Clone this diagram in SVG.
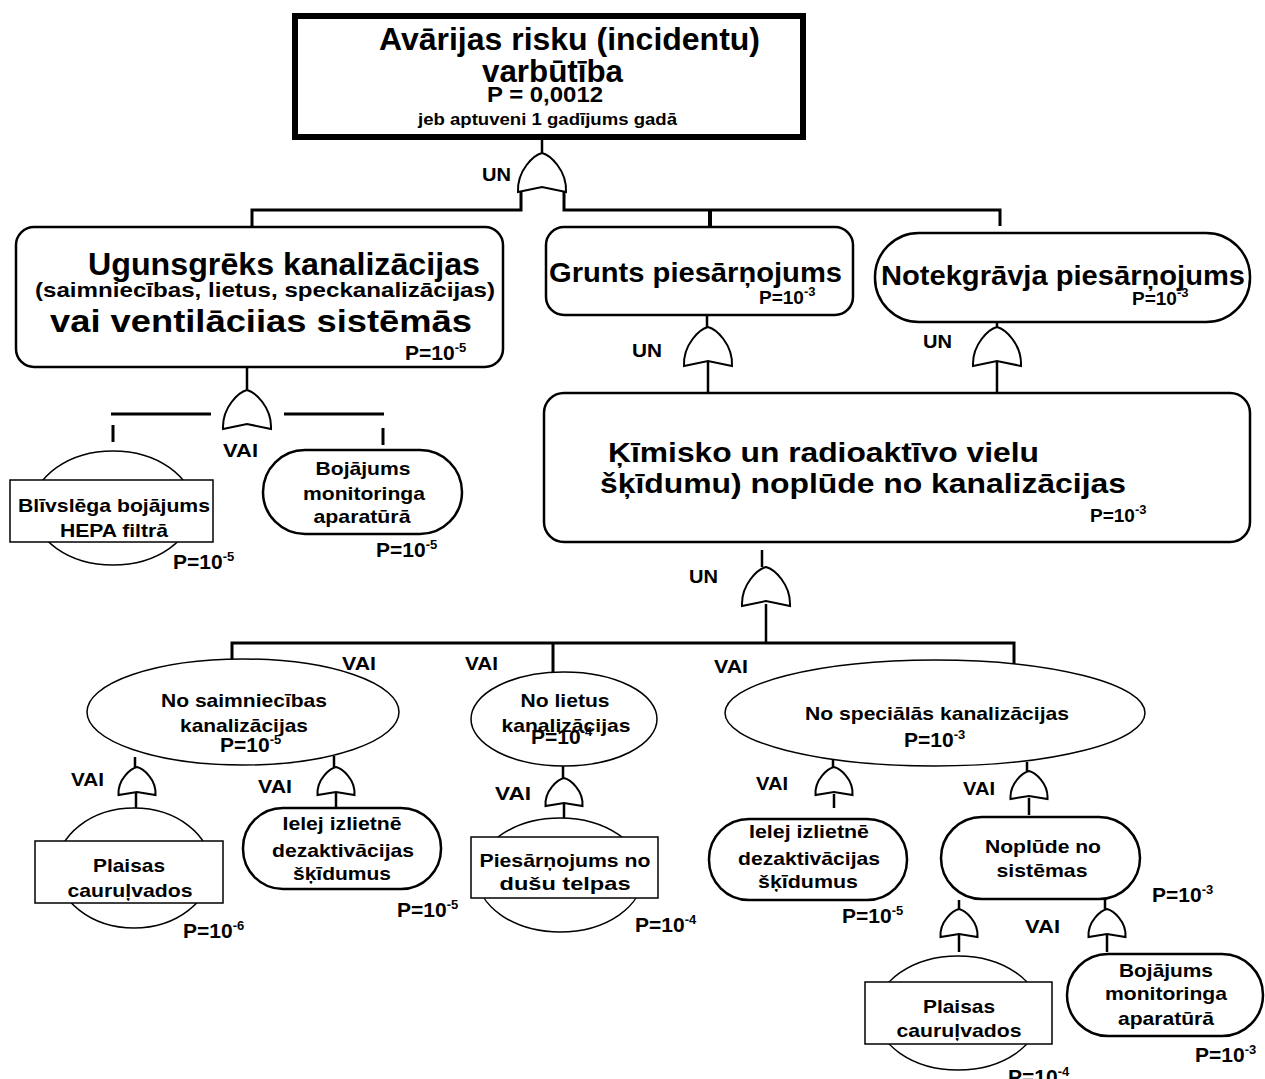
<svg xmlns="http://www.w3.org/2000/svg" width="1265" height="1079" viewBox="0 0 1265 1079">
<style>
text{font-family:"Liberation Sans",Arial,sans-serif;font-weight:bold;fill:#000}
.c{text-anchor:middle}
.b{font-size:19px}
.p{font-size:21px}
.s{font-size:13px}
.g{font-size:19px}
.box{fill:#fff;stroke:#000;stroke-width:2.5}
.thin{fill:#fff;stroke:#000;stroke-width:1.5}
.gate{fill:#fff;stroke:#000;stroke-width:2}
#conn path{fill:none;stroke:#000;stroke-width:2.5}
</style>
<defs>
<path id="gL" d="M-24,39 C-25,17 -8,2 0,0 C8,2 25,17 24,39 L0,34 Z"/>
<path id="gS" d="M-18.5,28 C-19.5,12 -6,1.5 0,0 C6,1.5 19.5,12 18.5,28 L0,25 Z"/>
</defs>
<rect width="1265" height="1079" fill="#fff"/>

<g id="conn">
<path d="M542,139 V153"/>
<path d="M521,191 V210 H252 V226" style="stroke-width:3"/>
<path d="M564,191 V210 H1000 V226" style="stroke-width:3"/>
<path d="M710,210 V227" style="stroke-width:4"/>
<path d="M707,315 V327 M708,361 V393"/>
<path d="M997,322 V327 M997,361 V393"/>
<path d="M247,367 V390"/>
<path d="M111,414 H211 M284,414 H384 M113,425 V442 M383,428 V445" style="stroke-width:3"/>
<path d="M762,550 V567 M766,604 V643"/>
<path d="M232,660 V643 H1014 V664 M553,643 V672" style="stroke-width:3"/>
<path d="M135,757 V767 M136,792 V808"/>
<path d="M334,756 V767 M336,792 V807"/>
<path d="M563,766 V778 M564,803 V818"/>
<path d="M833,757 V767 M834,794 V808"/>
<path d="M1027,762 V771 M1029,798 V815"/>
<path d="M959,900 V909 M959,933 V952"/>
<path d="M1105,899 V909 M1107,933 V952"/>
</g>

<g id="gates">
<g id="gate-top"><use href="#gL" class="gate" x="542" y="153"/><text class="g" x="482" y="181" textLength="29" lengthAdjust="spacingAndGlyphs">UN</text></g>
<g id="gate-fire"><use href="#gL" class="gate" x="247" y="390"/><text class="g" x="223" y="457" textLength="35" lengthAdjust="spacingAndGlyphs">VAI</text></g>
<g id="gate-soil"><use href="#gL" class="gate" x="708" y="327"/><text class="g" x="632" y="357" textLength="30" lengthAdjust="spacingAndGlyphs">UN</text></g>
<g id="gate-ditch"><use href="#gL" class="gate" x="997" y="327"/><text class="g" x="923" y="348" textLength="29" lengthAdjust="spacingAndGlyphs">UN</text></g>
<g id="gate-leak"><use href="#gL" class="gate" x="766" y="567"/><text class="g" x="689" y="583" textLength="29" lengthAdjust="spacingAndGlyphs">UN</text></g>
<g id="gate-bar-labels">
<text class="g" x="342" y="670" textLength="34" lengthAdjust="spacingAndGlyphs">VAI</text>
<text class="g" x="465" y="670" textLength="33" lengthAdjust="spacingAndGlyphs">VAI</text>
<text class="g" x="714" y="673" textLength="34" lengthAdjust="spacingAndGlyphs">VAI</text>
</g>
<g id="gate-s1"><use href="#gS" class="gate" x="137" y="767"/><text class="g" x="71" y="786" textLength="33" lengthAdjust="spacingAndGlyphs">VAI</text></g>
<g id="gate-s2"><use href="#gS" class="gate" x="336" y="767"/><text class="g" x="258" y="793" textLength="34" lengthAdjust="spacingAndGlyphs">VAI</text></g>
<g id="gate-l1"><use href="#gS" class="gate" x="564" y="778"/><text class="g" x="495" y="800" textLength="36" lengthAdjust="spacingAndGlyphs">VAI</text></g>
<g id="gate-p1"><use href="#gS" class="gate" x="834" y="767"/><text class="g" x="756" y="790" textLength="32" lengthAdjust="spacingAndGlyphs">VAI</text></g>
<g id="gate-p2"><use href="#gS" class="gate" x="1029" y="771"/><text class="g" x="963" y="795" textLength="32" lengthAdjust="spacingAndGlyphs">VAI</text></g>
<g id="gate-n1"><use href="#gS" class="gate" x="959" y="909"/></g>
<g id="gate-n2"><use href="#gS" class="gate" x="1107" y="909"/><text class="g" x="1025" y="933" textLength="35" lengthAdjust="spacingAndGlyphs">VAI</text></g>
</g>

<g id="top">
<rect x="295" y="16" width="508" height="121" fill="#fff" stroke="#000" stroke-width="6"/>
<text x="379" y="50" style="font-size:32px" textLength="381" lengthAdjust="spacingAndGlyphs">Avārijas risku (incidentu)</text>
<text x="482" y="82" style="font-size:32px" textLength="141" lengthAdjust="spacingAndGlyphs">varbūtība</text>
<text x="487" y="102" style="font-size:22px" textLength="116" lengthAdjust="spacingAndGlyphs">P = 0,0012</text>
<text x="418" y="125" style="font-size:16px" textLength="259" lengthAdjust="spacingAndGlyphs">jeb aptuveni 1 gadījums gadā</text>
</g>

<g id="fire">
<rect class="box" x="16" y="227" width="487" height="140" rx="18"/>
<text x="88" y="275" style="font-size:31px" textLength="392" lengthAdjust="spacingAndGlyphs">Ugunsgrēks kanalizācijas</text>
<text x="35" y="297" style="font-size:21px" textLength="460" lengthAdjust="spacingAndGlyphs">(saimniecības, lietus, speckanalizācijas)</text>
<text x="50" y="332" style="font-size:32px" textLength="422" lengthAdjust="spacingAndGlyphs">vai ventilāciias sistēmās</text>
<text class="p" x="405" y="360">P=10<tspan class="s" dy="-8">-5</tspan></text>
</g>

<g id="soil">
<rect class="box" x="546" y="227" width="307" height="88" rx="18"/>
<text x="549" y="282" style="font-size:27px" textLength="293" lengthAdjust="spacingAndGlyphs">Grunts piesārņojums</text>
<text class="p" x="759" y="304" style="font-size:19px">P=10<tspan class="s" dy="-8">-3</tspan></text>
</g>

<g id="ditch">
<rect class="box" x="875" y="233" width="375" height="89" rx="44"/>
<text x="881" y="285" style="font-size:27px" textLength="364" lengthAdjust="spacingAndGlyphs">Notekgrāvja piesārņojums</text>
<text class="p" x="1132" y="305" style="font-size:19px">P=10<tspan class="s" dy="-8">-3</tspan></text>
</g>

<g id="leak">
<rect class="box" x="544" y="393" width="706" height="149" rx="20"/>
<text x="608" y="462" style="font-size:28px" textLength="431" lengthAdjust="spacingAndGlyphs">Ķīmisko un radioaktīvo vielu</text>
<text x="600" y="493" style="font-size:28px" textLength="526" lengthAdjust="spacingAndGlyphs">šķīdumu) noplūde no kanalizācijas</text>
<text class="p" x="1090" y="522" style="font-size:19px">P=10<tspan class="s" dy="-8">-3</tspan></text>
</g>

<g id="hepa">
<ellipse class="thin" cx="113" cy="508" rx="80" ry="57"/>
<rect class="thin" x="10" y="480" width="203" height="62"/>
<text class="b c" x="114" y="512" textLength="192" lengthAdjust="spacingAndGlyphs">Blīvslēga bojājums</text>
<text class="b c" x="114" y="537" textLength="108" lengthAdjust="spacingAndGlyphs">HEPA filtrā</text>
<text class="p" x="173" y="569">P=10<tspan class="s" dy="-8">-5</tspan></text>
</g>

<g id="monitor1">
<rect class="box" x="263" y="450" width="199" height="84" rx="42"/>
<text class="b c" x="363" y="475" textLength="95" lengthAdjust="spacingAndGlyphs">Bojājums</text>
<text class="b c" x="364" y="500" textLength="122" lengthAdjust="spacingAndGlyphs">monitoringa</text>
<text class="b c" x="362" y="523" textLength="97" lengthAdjust="spacingAndGlyphs">aparatūrā</text>
<text class="p" x="376" y="557">P=10<tspan class="s" dy="-8">-5</tspan></text>
</g>

<g id="household">
<ellipse class="thin" cx="243" cy="712" rx="156" ry="53"/>
<text class="b c" x="244" y="707" textLength="166" lengthAdjust="spacingAndGlyphs">No saimniecības</text>
<text class="b c" x="244" y="732" textLength="128" lengthAdjust="spacingAndGlyphs">kanalizācijas</text>
<text class="p" x="220" y="752">P=10<tspan class="s" dy="-8">-5</tspan></text>
</g>

<g id="rain">
<ellipse class="thin" cx="564" cy="719" rx="93" ry="47"/>
<text class="b c" x="565" y="707" textLength="89" lengthAdjust="spacingAndGlyphs">No lietus</text>
<text class="b c" x="566" y="732" textLength="129" lengthAdjust="spacingAndGlyphs">kanalizācijas</text>
<text class="p" x="531" y="744">P=10<tspan class="s" dy="-8">-4</tspan></text>
</g>

<g id="special">
<ellipse class="thin" cx="935" cy="713" rx="210" ry="53"/>
<text class="b c" x="937" y="720" textLength="264" lengthAdjust="spacingAndGlyphs">No speciālās kanalizācijas</text>
<text class="p" x="904" y="747">P=10<tspan class="s" dy="-8">-3</tspan></text>
</g>

<g id="cracks1">
<ellipse class="thin" cx="134" cy="868" rx="77" ry="60"/>
<rect class="thin" x="35" y="841" width="188" height="62"/>
<text class="b c" x="129" y="872" textLength="72" lengthAdjust="spacingAndGlyphs">Plaisas</text>
<text class="b c" x="130" y="897" textLength="125" lengthAdjust="spacingAndGlyphs">cauruļvados</text>
<text class="p" x="183" y="938">P=10<tspan class="s" dy="-8">-6</tspan></text>
</g>

<g id="sink1">
<rect class="box" x="243" y="808" width="198" height="81" rx="40"/>
<text class="b c" x="342" y="830" textLength="119" lengthAdjust="spacingAndGlyphs">Ielej izlietnē</text>
<text class="b c" x="343" y="857" textLength="142" lengthAdjust="spacingAndGlyphs">dezaktivācijas</text>
<text class="b c" x="342" y="880" textLength="98" lengthAdjust="spacingAndGlyphs">šķīdumus</text>
<text class="p" x="397" y="917">P=10<tspan class="s" dy="-8">-5</tspan></text>
</g>

<g id="shower">
<ellipse class="thin" cx="560" cy="875" rx="83" ry="57"/>
<rect class="thin" x="471" y="837" width="187" height="61"/>
<text class="b c" x="565" y="867" textLength="171" lengthAdjust="spacingAndGlyphs">Piesārņojums no</text>
<text class="b c" x="565" y="890" textLength="131" lengthAdjust="spacingAndGlyphs">dušu telpas</text>
<text class="p" x="635" y="932">P=10<tspan class="s" dy="-8">-4</tspan></text>
</g>

<g id="sink2">
<rect class="box" x="709" y="819" width="198" height="81" rx="40"/>
<text class="b c" x="809" y="838" textLength="120" lengthAdjust="spacingAndGlyphs">Ielej izlietnē</text>
<text class="b c" x="809" y="865" textLength="142" lengthAdjust="spacingAndGlyphs">dezaktivācijas</text>
<text class="b c" x="808" y="888" textLength="100" lengthAdjust="spacingAndGlyphs">šķīdumus</text>
<text class="p" x="842" y="923">P=10<tspan class="s" dy="-8">-5</tspan></text>
</g>

<g id="system">
<rect class="box" x="941" y="817" width="199" height="82" rx="41"/>
<text class="b c" x="1043" y="853" textLength="116" lengthAdjust="spacingAndGlyphs">Noplūde no</text>
<text class="b c" x="1042" y="877" textLength="91" lengthAdjust="spacingAndGlyphs">sistēmas</text>
<text class="p" x="1152" y="902">P=10<tspan class="s" dy="-8">-3</tspan></text>
</g>

<g id="cracks2">
<ellipse class="thin" cx="958" cy="1013" rx="82" ry="57"/>
<rect class="thin" x="865" y="982" width="187" height="62"/>
<text class="b c" x="959" y="1013" textLength="72" lengthAdjust="spacingAndGlyphs">Plaisas</text>
<text class="b c" x="959" y="1037" textLength="125" lengthAdjust="spacingAndGlyphs">cauruļvados</text>
<text class="p" x="1008" y="1084">P=10<tspan class="s" dy="-8">-4</tspan></text>
</g>

<g id="monitor2">
<rect class="box" x="1067" y="954" width="196" height="82" rx="41"/>
<text class="b c" x="1166" y="977" textLength="94" lengthAdjust="spacingAndGlyphs">Bojājums</text>
<text class="b c" x="1166" y="1000" textLength="122" lengthAdjust="spacingAndGlyphs">monitoringa</text>
<text class="b c" x="1166" y="1025" textLength="96" lengthAdjust="spacingAndGlyphs">aparatūrā</text>
<text class="p" x="1195" y="1062">P=10<tspan class="s" dy="-8">-3</tspan></text>
</g>
</svg>
